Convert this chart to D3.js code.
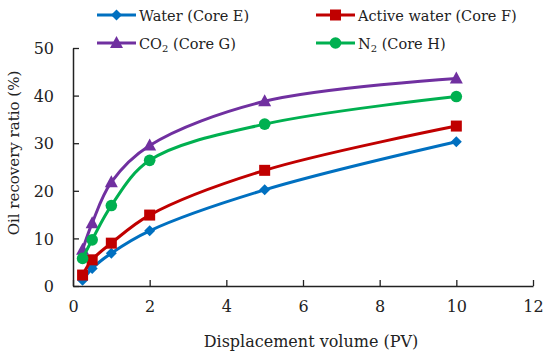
<!DOCTYPE html>
<html><head><meta charset="utf-8">
<script src="https://cdn.jsdelivr.net/npm/d3@7"></script>
<style>body{margin:0;background:#fff}svg{display:block}</style>
</head><body><svg id="c" width="550" height="357"></svg>
<script>
const pv = [0.25, 0.5, 1, 2, 5, 10];
const water = [1.2, 3.7, 6.9, 11.6, 20.2, 30.3];
const activeWater = [2.3, 5.5, 9.0, 14.9, 24.3, 33.6];
const co2 = [7.6, 13.2, 21.8, 29.5, 38.8, 43.6];
const n2 = [5.8, 9.7, 16.9, 26.4, 34.0, 39.8];
const xTicks = [0, 2, 4, 6, 8, 10, 12];
const yTicks = [0, 10, 20, 30, 40, 50];

const series = [
  {name: "Water (Core E)", values: water, color: "#0070C0", marker: "diamond"},
  {name: "Active water (Core F)", values: activeWater, color: "#C00000", marker: "square"},
  {name: "CO|2| (Core G)", values: co2, color: "#7030A0", marker: "triangle"},
  {name: "N|2| (Core H)", values: n2, color: "#00B050", marker: "circle"}
];

const FONT = "DejaVu Serif";
const svg = d3.select("#c");
const x = d3.scaleLinear().domain([0, 12]).range([73, 533]);
const y = d3.scaleLinear().domain([0, 50]).range([286, 48]);

const xAxis = svg.append("g").attr("transform", "translate(0,286)")
  .call(d3.axisBottom(x).tickValues(xTicks).tickSizeInner(-6).tickSizeOuter(0).tickPadding(15));
const yAxis = svg.append("g").attr("transform", "translate(73,0)")
  .call(d3.axisLeft(y).tickValues(yTicks).tickSizeInner(-6).tickSizeOuter(0).tickPadding(19));
[xAxis, yAxis].forEach(a => {
  a.attr("font-family", FONT);
  a.select(".domain").attr("stroke", "#222").attr("stroke-width", 1.5);
  a.selectAll(".tick line").attr("stroke", "#222").attr("stroke-width", 1.3);
  a.selectAll(".tick text").attr("font-size", 16).attr("fill", "#222").attr("font-family", FONT);
});
yAxis.selectAll(".tick text").attr("dy", "0.35em");

svg.append("text").attr("x", 311).attr("y", 347).attr("text-anchor", "middle").attr("fill", "#222")
  .attr("font-family", FONT).attr("font-size", 16).text("Displacement volume (PV)");
svg.append("text").attr("transform", "translate(19,153) rotate(-90)").attr("text-anchor", "middle").attr("fill", "#222")
  .attr("font-family", FONT).attr("font-size", 15).text("Oil recovery ratio (%)");

const line = d3.line().x(d => x(d[0])).y(d => y(d[1])).curve(d3.curveCatmullRom.alpha(0.5));

function drawMarker(g, type, cx, cy, color) {
  if (type === "diamond") {
    g.append("path").attr("d", `M${cx},${cy-5.5}L${cx+5.5},${cy}L${cx},${cy+5.5}L${cx-5.5},${cy}Z`).attr("fill", color);
  } else if (type === "square") {
    g.append("rect").attr("x", cx-5.5).attr("y", cy-5.5).attr("width", 11).attr("height", 11).attr("fill", color);
  } else if (type === "triangle") {
    g.append("path").attr("d", `M${cx},${cy-7}L${cx+6.5},${cy+5}L${cx-6.5},${cy+5}Z`).attr("fill", color);
  } else {
    g.append("circle").attr("cx", cx).attr("cy", cy).attr("r", 5.8).attr("fill", color);
  }
}

series.forEach(s => {
  const g = svg.append("g");
  const pts = pv.map((v, i) => [v, s.values[i]]);
  g.append("path").attr("d", line(pts)).attr("fill", "none").attr("stroke", s.color).attr("stroke-width", 3);
  pts.forEach(p => drawMarker(g, s.marker, x(p[0]), y(p[1]), s.color));
});

const legPos = [[97, 15], [316, 15], [97, 43], [316, 43]];
series.forEach((s, i) => {
  const [lx, ly] = legPos[i];
  const g = svg.append("g");
  g.append("line").attr("x1", lx).attr("x2", lx + 39).attr("y1", ly).attr("y2", ly)
    .attr("stroke", s.color).attr("stroke-width", 3);
  drawMarker(g, s.marker, lx + 19.5, ly, s.color);
  const t = g.append("text").attr("x", lx + 42).attr("y", ly + 5.5).attr("font-size", 14.5)
    .attr("font-family", FONT).attr("fill", "#222");
  const parts = s.name.split("|");
  parts.forEach((p, k) => {
    if (k % 2 === 1) t.append("tspan").attr("font-size", 10).attr("dy", 3).text(p);
    else t.append("tspan").attr("dy", k > 0 ? -3 : 0).text(p);
  });
});
</script></body></html>
